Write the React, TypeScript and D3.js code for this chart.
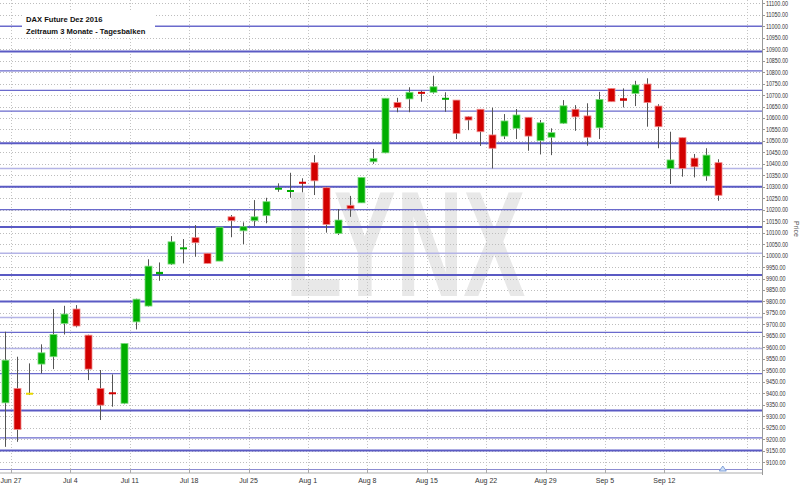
import React from "react";
import * as d3 from "d3";

const dates = [
  "2016-06-24",
  "2016-06-27", "2016-06-28", "2016-06-29", "2016-06-30", "2016-07-01",
  "2016-07-04", "2016-07-05", "2016-07-06", "2016-07-07", "2016-07-08",
  "2016-07-11", "2016-07-12", "2016-07-13", "2016-07-14", "2016-07-15",
  "2016-07-18", "2016-07-19", "2016-07-20", "2016-07-21", "2016-07-22",
  "2016-07-25", "2016-07-26", "2016-07-27", "2016-07-28", "2016-07-29",
  "2016-08-01", "2016-08-02", "2016-08-03", "2016-08-04", "2016-08-05",
  "2016-08-08", "2016-08-09", "2016-08-10", "2016-08-11", "2016-08-12",
  "2016-08-15", "2016-08-16", "2016-08-17", "2016-08-18", "2016-08-19",
  "2016-08-22", "2016-08-23", "2016-08-24", "2016-08-25", "2016-08-26",
  "2016-08-29", "2016-08-30", "2016-08-31", "2016-09-01", "2016-09-02",
  "2016-09-05", "2016-09-06", "2016-09-07", "2016-09-08", "2016-09-09",
  "2016-09-12", "2016-09-13", "2016-09-14", "2016-09-15", "2016-09-16",
];

const openV = [
  9358, 9421, 9402, 9527, 9559, 9704, 9767, 9653, 9421, 9404,
  9356, 9711, 9780, 9919, 9963, 10028, 10078, 10010, 9976, 10169,
  10108, 10152, 10174, 10290, 10278, 10322, 10405, 10296, 10097, 10219,
  10230, 10409, 10448, 10668, 10683, 10714, 10712, 10684, 10678, 10605,
  10638, 10526, 10521, 10555, 10603, 10501, 10516, 10577, 10638, 10609,
  10557, 10729, 10686, 10707, 10748, 10652, 10380, 10514, 10425, 10347,
  10405,
];
const highV = [
  9668, 9559, 9530, 9613, 9767, 9781, 9784, 9655, 9501, 9482,
  9617, 9812, 9984, 9970, 10085, 10072, 10133, 10010, 10124, 10177,
  10145, 10242, 10252, 10315, 10361, 10337, 10438, 10300, 10203, 10260,
  10341, 10465, 10686, 10688, 10734, 10719, 10784, 10712, 10678, 10607,
  10638, 10645, 10617, 10639, 10603, 10591, 10555, 10678, 10656, 10664,
  10714, 10729, 10729, 10762, 10773, 10660, 10540, 10514, 10443, 10468,
  10420,
];
const lowV = [
  9166, 9188, 9392, 9486, 9505, 9656, 9687, 9457, 9283, 9341,
  9352, 9678, 9778, 9890, 9959, 9966, 9995, 9966, 9976, 10080,
  10050, 10129, 10141, 10278, 10252, 10276, 10264, 10100, 10090, 10169,
  10230, 10400, 10446, 10625, 10625, 10671, 10706, 10627, 10508, 10547,
  10478, 10380, 10508, 10508, 10457, 10441, 10438, 10574, 10544, 10479,
  10508, 10671, 10646, 10652, 10562, 10468, 10312, 10344, 10341, 10326,
  10239,
];
const closeV = [
  9544, 9242, 9402, 9576, 9656, 9745, 9693, 9505, 9348, 9396,
  9617, 9810, 9954, 9929, 10060, 10036, 10056, 9966, 10124, 10152,
  10126, 10169, 10235, 10296, 10286, 10313, 10326, 10136, 10155, 10204,
  10341, 10424, 10686, 10645, 10712, 10706, 10736, 10688, 10533, 10591,
  10540, 10468, 10587, 10613, 10521, 10579, 10536, 10653, 10605, 10516,
  10681, 10671, 10675, 10744, 10667, 10562, 10417, 10380, 10387, 10438,
  10263,
];

const weekTickDates = [
  "2016-06-27", "2016-07-04", "2016-07-11", "2016-07-18", "2016-07-25", "2016-08-01",
  "2016-08-08", "2016-08-15", "2016-08-22", "2016-08-29", "2016-09-05", "2016-09-12",
];
const weekTickLabels = [
  "Jun 27", "Jul 4", "Jul 11", "Jul 18", "Jul 25", "Aug 1",
  "Aug 8", "Aug 15", "Aug 22", "Aug 29", "Sep 5", "Sep 12",
];
const extraGridIndex = [62.45];

const strongLevels = [10890, 10490, 10300, 10125, 9915, 9800, 9325, 9150];
const mediumLevels = [11000, 10805, 10720, 10630, 10200, 9665, 9485, 9205];
const lightLevels = [10380, 10010, 9730, 9595];

const titleLines = ["DAX Future Dez 2016", "Zeitraum 3 Monate - Tagesbalken"];
const watermark = "LYNX";

export default function App() {
  const W = 800;
  const H = 486;
  const plotRight = 762;
  const plotBottom = 469;

  const y = d3.scaleLinear().domain([9100, 11100]).range([462, 3.3]);
  const x = d3.scaleLinear().domain([0, dates.length - 1]).range([5, 717.8]);
  const yTicks = d3.range(9100, 11100 + 1, 50);
  const weekIdx = weekTickDates.map((d) => dates.indexOf(d) - 0.5);
  const fmt = d3.format(".2f");
  const bw = 7;
  const font = "'Liberation Sans', Arial, sans-serif";

  return (
    <svg
      width={W}
      height={H}
      style={{ position: "absolute", left: 0, top: 0, background: "#fff" }}
      fontFamily={font}
    >
      <rect x={0} y={0} width={W} height={H} fill="#fff" />
      {/* watermark */}
      <text
        x={x(33.7)}
        y={y(9822)}
        textAnchor="middle"
        fontSize={150}
        fontWeight="bold"
        fill="#e8e8e8"
        textLength={240}
        lengthAdjust="spacingAndGlyphs"
      >
        {watermark}
      </text>

      {/* horizontal grid */}
      {yTicks.map((t) => (
        <line
          key={"g" + t}
          x1={0}
          x2={plotRight}
          y1={Math.round(y(t)) + 0.5}
          y2={Math.round(y(t)) + 0.5}
          stroke="#bdbdbd"
          strokeDasharray="1,2"
        />
      ))}
      {/* vertical grid */}
      {[...weekIdx, ...extraGridIndex].map((i, k) => (
        <line
          key={"v" + k}
          x1={Math.round(x(i)) + 0.5}
          x2={Math.round(x(i)) + 0.5}
          y1={0}
          y2={plotBottom}
          stroke="#c4c4c4"
          strokeDasharray="1,2"
        />
      ))}

      {/* support / resistance lines */}
      {lightLevels.map((p) => (
        <line key={"l" + p} x1={0} x2={plotRight} y1={y(p)} y2={y(p)} stroke="#b4b4e6" strokeWidth={1.6} />
      ))}
      {mediumLevels.map((p) => (
        <line key={"m" + p} x1={0} x2={plotRight} y1={y(p)} y2={y(p)} stroke="#6a6acc" strokeWidth={1.3} />
      ))}
      {strongLevels.map((p) => (
        <line key={"s" + p} x1={0} x2={plotRight} y1={y(p)} y2={y(p)} stroke="#5a5ac4" strokeWidth={2} />
      ))}

      {/* candles */}
      {dates.map((d, i) => {
        const o = openV[i];
        const c = closeV[i];
        const cx = x(i);
        const up = c > o;
        const eq = c === o;
        const fill = eq ? "#e8d800" : up ? "#00ae00" : "#d20000";
        const edge = eq ? "#f4ec80" : up ? "#7fdb7f" : "#f08a8a";
        const top = y(Math.max(o, c));
        const h = Math.max(2, Math.abs(y(o) - y(c)));
        return (
          <g key={d}>
            <line
              x1={Math.round(cx) + 0.5}
              x2={Math.round(cx) + 0.5}
              y1={y(highV[i])}
              y2={y(lowV[i])}
              stroke="#555"
              strokeWidth={1}
            />
            <rect
              x={Math.round(cx) + 0.5 - bw / 2}
              y={top}
              width={bw}
              height={h}
              fill={fill}
              stroke={edge}
              strokeWidth={h > 3 ? 0.8 : 0}
            />
          </g>
        );
      })}

      {/* title */}
      <rect x={22} y={11} width={133} height={27} fill="#fff" />
      {titleLines.map((t, k) => (
        <text key={t} x={26} y={21.5 + k * 12} fontSize={7.6} fontWeight="bold" fill="#111">
          {t}
        </text>
      ))}

      {/* bottom frame */}
      <line x1={0} x2={plotRight} y1={plotBottom + 0.5} y2={plotBottom + 0.5} stroke="#8c8cd2" strokeWidth={1} />
      <rect x={0} y={472} width={plotRight} height={2} fill="#d6d6d6" />
      {weekIdx.map((i, k) => (
        <g key={"t" + k}>
          <line
            x1={Math.round(x(i)) + 0.5}
            x2={Math.round(x(i)) + 0.5}
            y1={plotBottom}
            y2={473}
            stroke="#aaa"
          />
          <text x={x(i)} y={483} fontSize={7} textAnchor="middle" fill="#333">
            {weekTickLabels[k]}
          </text>
        </g>
      ))}
      <path
        d={`M${x(dates.length - 1) + 5},${plotBottom - 3} l3.5,5 h-7 z`}
        fill="#cfe0f8"
        stroke="#6b8fd0"
        strokeWidth={0.8}
      />

      {/* right axis */}
      <line x1={plotRight + 0.5} x2={plotRight + 0.5} y1={0} y2={475} stroke="#999" />
      {yTicks.map((t) => (
        <g key={"yt" + t}>
          <line x1={plotRight} x2={plotRight + 3} y1={Math.round(y(t)) + 0.5} y2={Math.round(y(t)) + 0.5} stroke="#999" />
          <text
            x={plotRight + 4}
            y={y(t) + 2.5}
            fontSize={7}
            fill="#333"
            textLength={t >= 10000 ? 22 : 19.5}
            lengthAdjust="spacingAndGlyphs"
          >
            {fmt(t)}
          </text>
        </g>
      ))}
      <text
        transform={`translate(${794},${229}) rotate(90)`}
        fontSize={7}
        textAnchor="middle"
        fill="#555"
      >
        Price
      </text>
    </svg>
  );
}
